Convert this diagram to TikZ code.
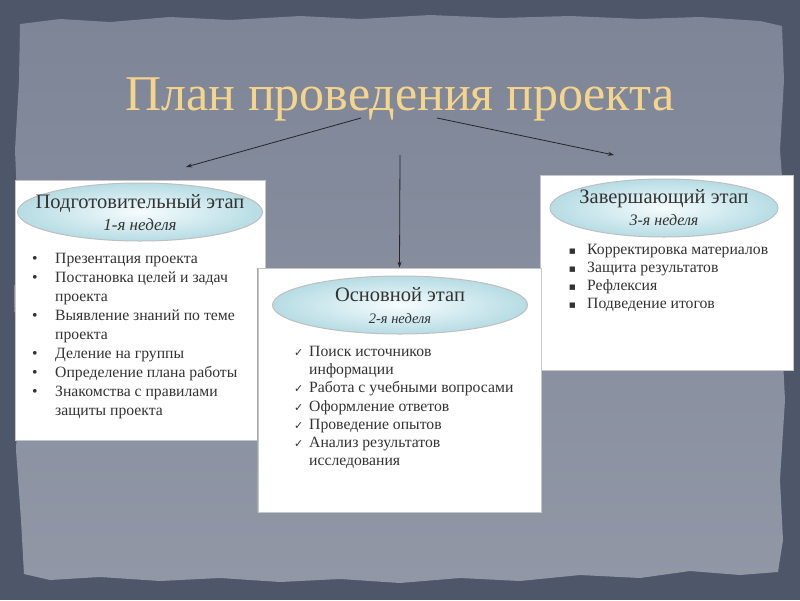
\documentclass[tikz,border=0pt]{standalone}
\usepackage{fontspec}
\setmainfont{Liberation Serif}
\newfontfamily\bodyfont{Liberation Serif}
\newfontfamily\symfont{DejaVu Sans}
\usetikzlibrary{arrows.meta,shapes.geometric}
\definecolor{frame}{HTML}{4E566A}
\definecolor{papertop}{HTML}{7D8597}
\definecolor{paperbot}{HTML}{9197A5}
\definecolor{titlegold}{HTML}{F5D48C}
\definecolor{bodytext}{HTML}{333333}
\definecolor{ellin}{HTML}{F6FCFD}
\definecolor{ellout}{HTML}{B6DCE4}
\newcommand{\bul}{\makebox[23pt][l]{•}}
\newcommand{\chk}{\makebox[15pt][l]{{\symfont\fontsize{11}{11}\selectfont ✓}}}
\newcommand{\sqb}{\makebox[18pt][l]{{\symfont\fontsize{7}{7}\selectfont\raisebox{1pt}{■}}}}
\newcommand{\indA}{\hspace*{23pt}}
\newcommand{\indB}{\hspace*{15pt}}
\tikzset{
  card/.style={draw=gray!45, line width=0.6pt, fill=white},
  stagebubble/.style={ellipse, draw=gray!50, line width=1pt, inner color=ellin, outer color=ellout, inner sep=0pt},
  stagetext/.style={align=center, inner sep=0pt, text=bodytext, font=\bodyfont\fontsize{20.5}{22}\selectfont},
  itemlist/.style={anchor=north west, align=left, inner sep=0pt, text=bodytext, font=\bodyfont\fontsize{15.7}{19}\selectfont},
  linkarrow/.style={-{Stealth[length=6pt,width=4pt]}, line width=0.8pt, black!85}
}
\begin{document}
\begin{tikzpicture}[x=1pt,y=-1pt]
\useasboundingbox (0,0) rectangle (800,600);
% background frame
\fill[frame] (0,0) rectangle (800,600);
\shade[top color=papertop, bottom color=paperbot]
  (20,24) -- (60,19) -- (110,22) -- (170,17) -- (230,20) -- (300,16) -- (360,19) -- (430,15) -- (500,18) -- (570,16) -- (640,19) -- (700,17) -- (760,21) -- (782,26)
  -- (784,80) -- (780,150) -- (786,230) -- (781,320) -- (785,400) -- (780,480) -- (783,540) -- (778,572)
  -- (740,575) -- (690,571) -- (640,578) -- (580,575) -- (520,581) -- (460,578) -- (400,583) -- (340,579) -- (280,582) -- (220,578) -- (160,581) -- (100,577) -- (50,580) -- (24,574)
  -- (21,520) -- (16,450) -- (19,380) -- (14,300) -- (18,220) -- (15,150) -- (19,80) -- cycle;
% title
\node[text=titlegold, font=\bodyfont\fontsize{50}{54}\selectfont, inner sep=0pt] (title) at (400,99) {План проведения проекта};
% cards
\node[card, minimum width=250pt, minimum height=260pt, inner sep=0pt] (left) at (140,310) {};
\node[card, minimum width=253pt, minimum height=195pt, inner sep=0pt] (right) at (666.5,272.5) {};
\node[card, minimum width=283pt, minimum height=244pt, inner sep=0pt] (mid) at (399.5,390) {};
\draw[gray!70, line width=1pt] (mid.south west) -- (mid.north west);
% bubbles
\node[stagebubble, minimum width=245pt, minimum height=58pt] (b1) at (140,212) {};
\node[stagetext] (b1t) at (140,213)
  {Подготовительный этап\\{\fontsize{17}{22}\selectfont\itshape 1-я неделя}};
\node[stagebubble, minimum width=255pt, minimum height=58pt] (b2) at (400,305) {};
\node[stagetext] (b2t) at (400,306)
  {Основной этап\\{\fontsize{14.5}{22}\selectfont\itshape 2-я неделя}};
\node[stagebubble, minimum width=228pt, minimum height=58pt] (b3) at (664,208) {};
\node[stagetext] (b3t) at (664,208)
  {Завершающий этап\\{\fontsize{16}{22}\selectfont\itshape 3-я неделя}};
% lists
\node[itemlist] (l1) at (32,253) {\bul Презентация проекта\\
\bul Постановка целей и задач\\ \indA проекта\\
\bul Выявление знаний по теме\\ \indA проекта\\
\bul Деление на группы\\
\bul Определение плана работы\\
\bul Знакомства с правилами\\ \indA защиты проекта};
\node[itemlist, font=\bodyfont\fontsize{15.7}{18.2}\selectfont] (l2) at (294,346) {\chk Поиск источников\\ \indB информации\\
\chk Работа с учебными вопросами\\
\chk Оформление ответов\\
\chk Проведение опытов\\
\chk Анализ результатов\\ \indB исследования};
\node[itemlist, font=\bodyfont\fontsize{15.7}{18}\selectfont] (l3) at (569,244) {\sqb Корректировка материалов\\
\sqb Защита результатов\\
\sqb Рефлексия\\
\sqb Подведение итогов};
% connectors
\coordinate (a1s) at (361,118);
\coordinate (a1e) at (186,167);
\coordinate (a2s) at (437,118);
\coordinate (a2e) at (614,155);
\coordinate (a3s) at (400,155);
\draw[linkarrow] (a1s) -- (a1e);
\draw[linkarrow] (a2s) -- (a2e);
\draw[linkarrow] (a3s) -- (mid.north);
\end{tikzpicture}
\end{document}
